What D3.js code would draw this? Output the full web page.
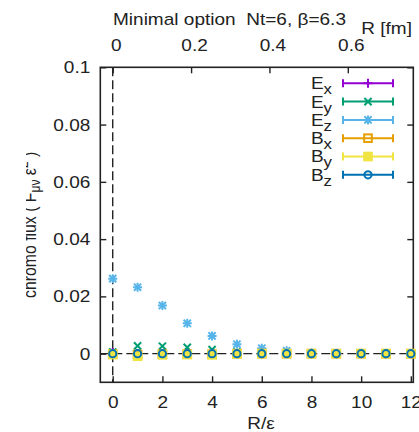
<!DOCTYPE html>
<html>
<head>
<meta charset="utf-8">
<script src="https://cdn.jsdelivr.net/npm/d3@7"></script>
<style>
  body { margin: 0; background: #fff; }
  text { font-family: "Liberation Sans", Arial, sans-serif; fill: #222; white-space: pre; }
</style>
</head>
<body>
<div id="container"></div>
<script>
"use strict";

// R/eps positions
const rValues = [0, 1, 2, 3, 4, 5, 6, 7, 8, 9, 10, 11, 12];

// chromo flux components
const ex = [0.0004, 0, 0, 0, 0, 0, 0, 0, 0, 0, 0, 0, 0];
const ey = [0.0006, 0.0027, 0.0026, 0.0022, 0.0014, 0.0006, 0.0003, 0.0001, 0, 0, 0, 0, 0];
const ez = [0.0262, 0.0232, 0.0168, 0.0106, 0.0062, 0.0033, 0.0019, 0.001, 0.0003, 0.0001, 0.0001, 0, 0];
const bx = [-0.0002, -0.0003, -0.0002, -0.0002, -0.0002, 0, 0, 0, 0, 0, 0, 0, 0];
const by = [-0.0003, -0.0009, -0.0004, -0.0003, -0.0004, -0.0001, 0, 0, 0, 0, 0, 0, 0];
const bz = [0, 0, 0, 0, 0, 0, 0, 0, 0, 0, 0, 0, 0];

const seriesNames = ["x", "y", "z", "x", "y", "z"];
const seriesLetters = ["E", "E", "E", "B", "B", "B"];
const seriesValues = [ex, ey, ez, bx, by, bz];

const xTicks = [0, 2, 4, 6, 8, 10, 12];
const yTicks = [0, 0.02, 0.04, 0.06, 0.08, 0.1];
const fmTicks = [0, 0.2, 0.4, 0.6];
const latticeSpacing = 0.0634; // fm per unit of R/eps

const colors = ["#9400d3", "#009e73", "#56b4e9", "#e69f00", "#f0e442", "#0072b2"];
const shapes = ["plus", "cross", "star", "square", "fsquare", "circle"];

const width = 419, height = 432;
const plotLeft = 100.3, plotRight = 413.3, plotTop = 67.3, plotBottom = 382.3;
const stretch = 1.12; // the original glyphs are a bit wider than tall

const svg = d3.select("#container").append("svg")
    .attr("width", width)
    .attr("height", height);

// widen a text around its anchor point
function widen(sel) {
    sel.each(function () {
        const tx = +this.getAttribute("x") || 0;
        this.setAttribute("transform",
            `translate(${tx},0) scale(${stretch},1) translate(${-tx},0)`);
    });
}

const x = d3.scaleLinear().domain([-0.5, 12.1]).range([plotLeft, plotRight]);
const y = d3.scaleLinear().domain([-0.01, 0.1]).range([plotBottom, plotTop]);
const xFm = d3.scaleLinear()
    .domain(x.domain().map((d) => d * latticeSpacing))
    .range([plotLeft, plotRight]);

// dashed zero lines
svg.append("line")
    .attr("x1", x(0)).attr("x2", x(0))
    .attr("y1", plotTop).attr("y2", plotBottom)
    .attr("stroke", "#222").attr("stroke-width", 1.4)
    .attr("stroke-dasharray", "9,4");
svg.append("line")
    .attr("x1", plotLeft).attr("x2", plotRight)
    .attr("y1", y(0)).attr("y2", y(0))
    .attr("stroke", "#222").attr("stroke-width", 1.4)
    .attr("stroke-dasharray", "9,4");

// axes (ticks pointing inwards)
const tickLen = 6;
const gBottom = svg.append("g")
    .attr("transform", `translate(0, ${plotBottom})`)
    .call(d3.axisBottom(x).tickValues(xTicks).tickSize(-tickLen).tickPadding(tickLen + 8));
const gLeft = svg.append("g")
    .attr("transform", `translate(${plotLeft}, 0)`)
    .call(d3.axisLeft(y).tickValues(yTicks).tickSize(-tickLen).tickPadding(tickLen + 4)
        .tickFormat((d) => (d === 0 ? "0" : String(+d.toFixed(2)))));
const gRight = svg.append("g")
    .attr("transform", `translate(${plotRight}, 0)`)
    .call(d3.axisRight(y).tickValues(yTicks).tickSize(-tickLen).tickFormat(""));
const gTop = svg.append("g")
    .attr("transform", `translate(0, ${plotTop})`)
    .call(d3.axisTop(xFm).tickValues(fmTicks).tickSize(-tickLen).tickPadding(tickLen + 10)
        .tickFormat((d) => (d === 0 ? "0" : d.toString())));

[gBottom, gLeft, gRight, gTop].forEach((g) => {
    g.select(".domain").remove();
    g.selectAll(".tick line").attr("stroke", "#222").attr("stroke-width", 1.4);
    g.selectAll("text").style("font-size", "17px").attr("fill", "#222");
});
gTop.selectAll(".tick text").attr("x", 3);
[gBottom, gLeft, gTop].forEach((g) => widen(g.selectAll(".tick text")));

// frame
svg.append("rect")
    .attr("x", plotLeft).attr("y", plotTop)
    .attr("width", plotRight - plotLeft).attr("height", plotBottom - plotTop)
    .attr("fill", "none").attr("stroke", "#222").attr("stroke-width", 1.6);

// point symbols
function drawSymbol(g, shape, color, size) {
    const s = size;
    if (shape === "plus" || shape === "star") {
        g.append("path").attr("d", `M${-s},0H${s}M0,${-s}V${s}`)
            .attr("stroke", color).attr("stroke-width", 2).attr("fill", "none");
    }
    if (shape === "cross" || shape === "star") {
        const c = s * 0.8;
        g.append("path").attr("d", `M${-c},${-c}L${c},${c}M${-c},${c}L${c},${-c}`)
            .attr("stroke", color).attr("stroke-width", 2).attr("fill", "none");
    }
    if (shape === "square" || shape === "fsquare") {
        const c = s * 0.85;
        g.append("rect").attr("x", -c).attr("y", -c).attr("width", 2 * c).attr("height", 2 * c)
            .attr("stroke", color).attr("stroke-width", 2)
            .attr("fill", shape === "fsquare" ? color : "none");
    }
    if (shape === "circle") {
        g.append("circle").attr("r", s * 0.8)
            .attr("stroke", color).attr("stroke-width", 2).attr("fill", "none");
    }
}

// data points
seriesValues.forEach((vals, i) => {
    const g = svg.append("g");
    vals.forEach((v, j) => {
        const p = g.append("g").attr("transform", `translate(${x(rValues[j])}, ${y(v)})`);
        drawSymbol(p, shapes[i], colors[i], 4.5);
    });
});

// legend
const legendX = 332, legendY = 83.3, legendDy = 18.3;
seriesValues.forEach((vals, i) => {
    const ly = legendY + i * legendDy;
    const t = svg.append("text")
        .attr("x", legendX).attr("y", ly + 6)
        .attr("text-anchor", "end")
        .style("font-size", "17px");
    t.append("tspan").text(seriesLetters[i]);
    t.append("tspan").attr("dy", 5).style("font-size", "15px").text(seriesNames[i]);
    widen(t);

    svg.append("path")
        .attr("d", `M343,${ly}H393M343,${ly - 4}V${ly + 4}M393,${ly - 4}V${ly + 4}`)
        .attr("stroke", colors[i]).attr("stroke-width", 2).attr("fill", "none");
    const p = svg.append("g").attr("transform", `translate(368, ${ly})`);
    drawSymbol(p, shapes[i], colors[i], 4.5);
});

// title and axis labels
svg.append("text")
    .attr("x", 113).attr("y", 25)
    .style("font-size", "17px")
    .text("Minimal option  Nt=6, \u03b2=6.3")
    .call(widen);

svg.append("text")
    .attr("x", 412).attr("y", 34)
    .attr("text-anchor", "end")
    .style("font-size", "17px")
    .text("R [fm]")
    .call(widen);

svg.append("text")
    .attr("x", 261).attr("y", 429)
    .attr("text-anchor", "middle")
    .style("font-size", "17px")
    .text("R/\u03b5")
    .call(widen);

// y label, its left edge is cut off like in the original
svg.append("clipPath").attr("id", "ylabClip")
    .append("rect").attr("x", 26).attr("y", 0).attr("width", 60).attr("height", height);

const ylab = svg.append("g").attr("clip-path", "url(#ylabClip)")
    .append("text")
    .attr("transform", `translate(36, ${(plotTop + plotBottom) / 2}) rotate(-90) scale(0.93, 1.12)`)
    .attr("text-anchor", "middle")
    .style("font-size", "17px");
ylab.append("tspan").text("chromo flux ( F");
ylab.append("tspan").attr("dy", 4).style("font-size", "13px").text("\u03bc\u03bd");
ylab.append("tspan").attr("dy", -4).text(" \u03b5");
ylab.append("tspan").attr("dy", -7).style("font-size", "13px").text("2");
ylab.append("tspan").attr("dy", 7).text(" )");
</script>
</body>
</html>
